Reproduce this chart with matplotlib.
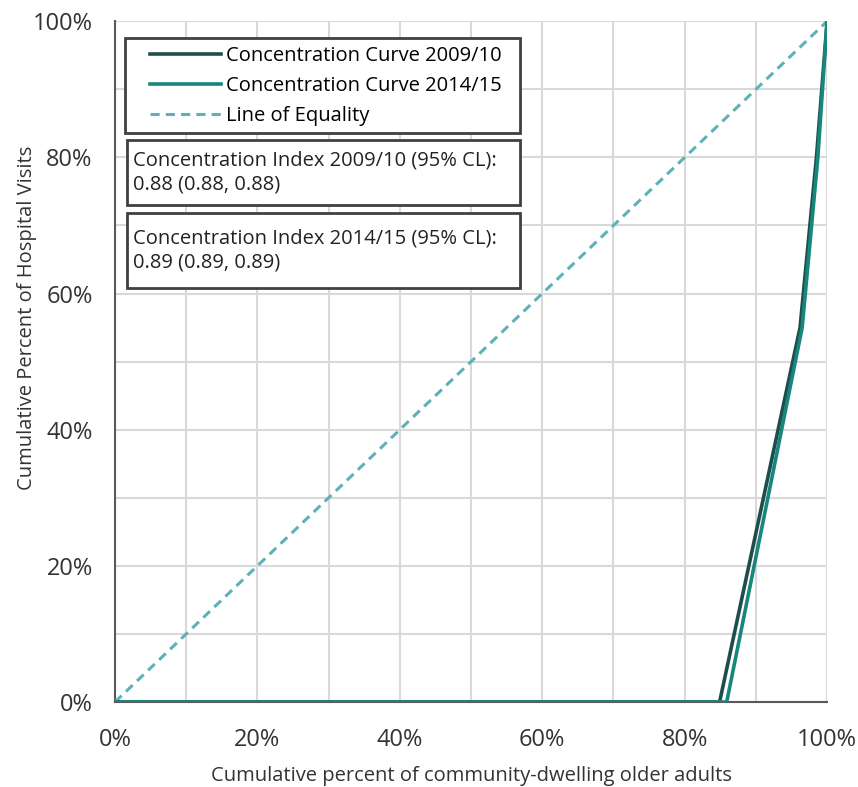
import matplotlib.pyplot as plt
import matplotlib.ticker as ticker
from matplotlib.patches import Rectangle
from matplotlib.legend_handler import HandlerLine2D

# ===========================
# DATA (percent)
# ===========================
x_0910 = [0, 84.9, 96.2, 98.5, 100]
y_0910 = [0, 0, 55, 80, 100]
x_1415 = [0, 85.9, 96.5, 98.7, 100]
y_1415 = [0, 0, 55, 80, 100]
eq_x = [0, 100]
eq_y = [0, 100]

labels = ["Concentration Curve 2009/10", "Concentration Curve 2014/15", "Line of Equality"]
ci_texts = ["Concentration Index 2009/10 (95% CL):\n0.88 (0.88, 0.88)",
            "Concentration Index 2014/15 (95% CL):\n0.89 (0.89, 0.89)"]

plt.rcParams["font.family"] = ["Open Sans", "DejaVu Sans"]

fig, ax = plt.subplots(figsize=(8.58, 7.87), dpi=100)
fig.subplots_adjust(left=0.134, right=0.964, top=0.973, bottom=0.108)

ax.plot(eq_x, eq_y, color="#5fb1b8", lw=2.2, ls=(0, (3, 2)), label=labels[2], zorder=3)
ax.plot(x_0910, y_0910, color="#1e4e4b", lw=2.6, label=labels[0], zorder=4)
ax.plot(x_1415, y_1415, color="#17877e", lw=2.6, label=labels[1], zorder=5)

ax.set_xlim(0, 100)
ax.set_ylim(0, 100)
ax.xaxis.set_major_locator(ticker.MultipleLocator(20))
ax.yaxis.set_major_locator(ticker.MultipleLocator(20))
ax.xaxis.set_minor_locator(ticker.MultipleLocator(10))
ax.yaxis.set_minor_locator(ticker.MultipleLocator(10))
ax.xaxis.set_major_formatter(ticker.FuncFormatter(lambda v, p: f"{v:.0f}%"))
ax.yaxis.set_major_formatter(ticker.FuncFormatter(lambda v, p: f"{v:.0f}%"))
ax.grid(which="both", color="#d9d9d9", lw=1.5, zorder=0)
ax.set_axisbelow(True)
ax.tick_params(which="both", length=0, labelsize=17, colors="#333333")
ax.tick_params(axis="x", pad=19)
ax.tick_params(axis="y", pad=16)

for s in ["top", "right"]:
    ax.spines[s].set_visible(False)
ax.spines["left"].set_color("#595959")
ax.spines["bottom"].set_color("#595959")
ax.spines["left"].set_linewidth(1.5)
ax.spines["bottom"].set_linewidth(1.5)

ax.set_xlabel("Cumulative percent of community-dwelling older adults", fontsize=14.5, color="#333333", labelpad=10)
ax.set_ylabel("Cumulative Percent of Hospital Visits", fontsize=14.5, color="#333333")
ax.yaxis.set_label_coords(-0.11, 0.564)

handles, labs = ax.get_legend_handles_labels()
order = [1, 2, 0]
leg = ax.legend([handles[i] for i in order], [labs[i] for i in order],
                loc="upper left", bbox_to_anchor=(0.014, 0.8355, 0.555, 0.14), mode="expand",
                fontsize=14.5, fancybox=False, edgecolor="#404040", framealpha=1,
                handlelength=4.4, handletextpad=0.25, borderpad=0.38, labelspacing=0.5,
                borderaxespad=0, handler_map={plt.Line2D: HandlerLine2D(xpad=0.85)})
leg.get_frame().set_linewidth(2)

# concentration index boxes
boxes = [(0.017, 0.730, 0.552, 0.095), (0.017, 0.608, 0.552, 0.110)]
for (bx, by, bw, bh), txt in zip(boxes, ci_texts):
    ax.add_patch(Rectangle((bx, by), bw, bh, transform=ax.transAxes, fc="white",
                           ec="#404040", lw=2, zorder=10))
    ax.text(bx + 0.009, by + bh / 2, txt, transform=ax.transAxes, fontsize=14.5,
            va="center", ha="left", linespacing=1.25, color="#222222", zorder=11)

plt.savefig("out.png", dpi=100)
